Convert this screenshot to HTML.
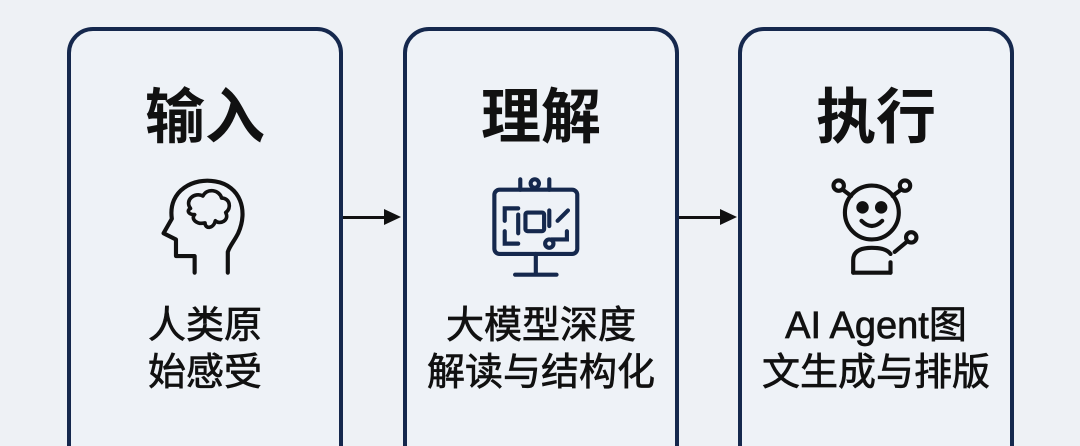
<!DOCTYPE html>
<html><head><meta charset="utf-8"><style>
html,body{margin:0;width:1080px;height:446px;overflow:hidden}
body{background:#eef1f5;font-family:"Liberation Sans","Noto Sans CJK SC",sans-serif}
#w{position:relative;width:1080px;height:446px;overflow:hidden}
.box{position:absolute;top:27px;width:276px;height:460px;border:4px solid #15284d;border-radius:26px;background:#eef2f7;box-sizing:border-box}
.t{position:absolute;top:54px;left:0;right:0;text-align:center;font-size:60px;font-weight:bold;color:#111;line-height:66px}
.d{position:absolute;top:272px;left:0;right:0;text-align:center;font-size:38px;color:#111;line-height:47px;-webkit-text-stroke:0.7px #111}
svg.i{position:absolute;left:82px;top:138px}
.ar{position:absolute;top:216px;height:3px;background:#111}
.ah{position:absolute;top:209px;width:0;height:0;border-left:17px solid #111;border-top:8px solid transparent;border-bottom:8px solid transparent}
</style></head><body><div id="w">
<div class="box" style="left:67px">
 <div class="t">输入</div>
 <svg class="i" width="104" height="114" viewBox="0 0 100 110" fill="none" stroke="#111" stroke-width="4" stroke-linejoin="round" stroke-linecap="round">
  <path d="M40 100 V84 H22 V68 L10 62 L18 48 C14 20 40 8 60 12 C84 16 92 40 82 62 C78 70 74 74 72 80 V100"/>
  <path d="M36 38 C30 30 40 22 48 26 C52 18 64 20 66 28 C74 28 76 38 70 42 C74 50 64 54 60 50 C58 58 50 58 50 52 C42 54 36 48 40 44 C34 44 32 40 36 38Z" stroke-width="3.5"/>
 </svg>
 <div class="d">人类原<br>始感受</div>
</div>
<div class="box" style="left:403px">
 <div class="t">理解</div>
 <svg class="i" width="104" height="114" viewBox="0 0 100 110" fill="none" stroke="#15284d" stroke-width="4" stroke-linecap="round">
  <rect x="5" y="20" width="80" height="62" rx="5"/>
  <path d="M45 82 V100 M25 102 H65"/>
  <path d="M30 20 V10 M58 20 V10"/><circle cx="44" cy="14" r="4"/>
  <path d="M15 50 V38 H28 M15 60 V72 H28 M76 40 L66 50 M75 60 V68 H60"/>
  <rect x="35" y="42" width="18" height="18" rx="2"/><path d="M58 40 V55 M28 44 V62"/><circle cx="58" cy="72" r="4"/>
 </svg>
 <div class="d">大模型深度<br>解读与结构化</div>
</div>
<div class="box" style="left:738px">
 <div class="t">执行</div>
 <svg class="i" width="104" height="114" viewBox="0 0 100 110" fill="none" stroke="#111" stroke-width="4" stroke-linecap="round">
  <circle cx="46" cy="42" r="26"/>
  <circle cx="37" cy="37" r="4" fill="#111"/><circle cx="55" cy="37" r="4" fill="#111"/>
  <path d="M36 50 Q46 60 56 50"/>
  <circle cx="14" cy="16" r="5"/><path d="M18 20 L26 26"/>
  <circle cx="78" cy="16" r="5"/><path d="M74 20 L66 26"/>
  <circle cx="84" cy="66" r="5"/><path d="M80 70 L68 80"/>
  <path d="M28 100 V88 Q28 76 46 76 Q60 76 64 82 M64 100 V90"/>
  <path d="M28 100 H64"/>
 </svg>
 <div class="d">AI Agent图<br>文生成与排版</div>
</div>
<div class="ar" style="left:343px;width:42px"></div><div class="ah" style="left:384px"></div>
<div class="ar" style="left:679px;width:42px"></div><div class="ah" style="left:720px"></div>
</div></body></html>
